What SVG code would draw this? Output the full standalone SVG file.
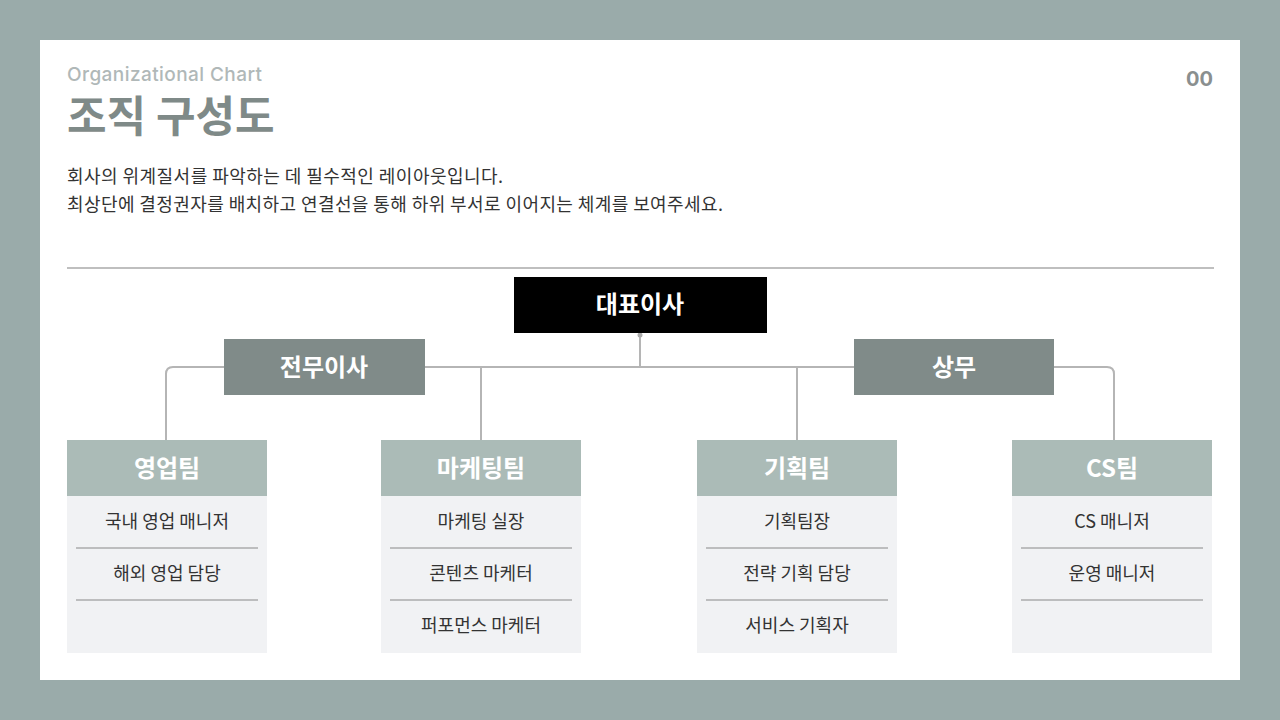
<svg xmlns="http://www.w3.org/2000/svg" width="1280" height="720" viewBox="0 0 1280 720">
<style>
text{font-family:"Noto Sans CJK KR","Noto Sans",sans-serif}
.hd{fill:#fff;font-weight:700;font-size:24px;text-anchor:middle}
.it{fill:#333;font-size:18px;text-anchor:middle}
.sep{stroke:#888;stroke-width:1}
.body{fill:#f1f2f4}
.th{fill:#abbbb7}
.con{fill:none;stroke:#b5b5b5;stroke-width:2}
</style>
<rect width="1280" height="720" fill="#9aabaa"/>
<rect x="40" y="40" width="1200" height="640" fill="#fff"/>
<text x="67" y="81" font-size="19" font-weight="500" fill="#b0b8b8" textLength="195" style="font-family:Inter,'Noto Sans',sans-serif">Organizational Chart</text>
<text x="67" y="132" font-size="43" font-weight="700" fill="#7f8a88">조직 구성도</text>
<text x="1213" y="86" font-size="20" font-weight="700" fill="#8a8f8f" text-anchor="end" style="font-family:Inter,'Noto Sans',sans-serif">00</text>
<text x="67" y="183" font-size="18" fill="#333" textLength="436">회사의 위계질서를 파악하는 데 필수적인 레이아웃입니다.</text>
<text x="67" y="211" font-size="18" fill="#333" textLength="656">최상단에 결정권자를 배치하고 연결선을 통해 하위 부서로 이어지는 체계를 보여주세요.</text>
<line x1="67" y1="268" x2="1214" y2="268" stroke="#aaa" stroke-width="1.5"/>
<g id="connectors">
<path class="con" d="M640 333V367"/>
<circle cx="640" cy="335" r="2.5" fill="#aaa"/>
<path class="con" d="M166 440V374Q166 367 173 367H1107Q1114 367 1114 374V440"/>
<path class="con" d="M481 367V440M797 367V440"/>
</g>
<g id="ceo"><rect x="514" y="277" width="253" height="56" fill="#000"/><text class="hd" x="640" y="313">대표이사</text></g>
<g id="dir1"><rect x="224" y="339" width="201" height="56" fill="#808b89"/><text class="hd" x="324" y="376">전무이사</text></g>
<g id="dir2"><rect x="854" y="339" width="200" height="56" fill="#808b89"/><text class="hd" x="954" y="376">상무</text></g>
<g id="team1"><rect class="body" x="67" y="496" width="200" height="157"/><rect class="th" x="67" y="440" width="200" height="56"/><text class="hd" x="167" y="477">영업팀</text>
<text class="it" x="167" y="528">국내 영업 매니저</text><line class="sep" x1="76" y1="548" x2="258" y2="548"/><text class="it" x="167" y="580">해외 영업 담당</text><line class="sep" x1="76" y1="600" x2="258" y2="600"/></g>
<g id="team2"><rect class="body" x="381" y="496" width="200" height="157"/><rect class="th" x="381" y="440" width="200" height="56"/><text class="hd" x="481" y="477">마케팅팀</text>
<text class="it" x="481" y="528">마케팅 실장</text><line class="sep" x1="390" y1="548" x2="572" y2="548"/><text class="it" x="481" y="580">콘텐츠 마케터</text><line class="sep" x1="390" y1="600" x2="572" y2="600"/><text class="it" x="481" y="632">퍼포먼스 마케터</text></g>
<g id="team3"><rect class="body" x="697" y="496" width="200" height="157"/><rect class="th" x="697" y="440" width="200" height="56"/><text class="hd" x="797" y="477">기획팀</text>
<text class="it" x="797" y="528">기획팀장</text><line class="sep" x1="706" y1="548" x2="888" y2="548"/><text class="it" x="797" y="580">전략 기획 담당</text><line class="sep" x1="706" y1="600" x2="888" y2="600"/><text class="it" x="797" y="632">서비스 기획자</text></g>
<g id="team4"><rect class="body" x="1012" y="496" width="200" height="157"/><rect class="th" x="1012" y="440" width="200" height="56"/><text class="hd" x="1112" y="477">CS팀</text>
<text class="it" x="1112" y="528">CS 매니저</text><line class="sep" x1="1021" y1="548" x2="1203" y2="548"/><text class="it" x="1112" y="580">운영 매니저</text><line class="sep" x1="1021" y1="600" x2="1203" y2="600"/></g>
</svg>
